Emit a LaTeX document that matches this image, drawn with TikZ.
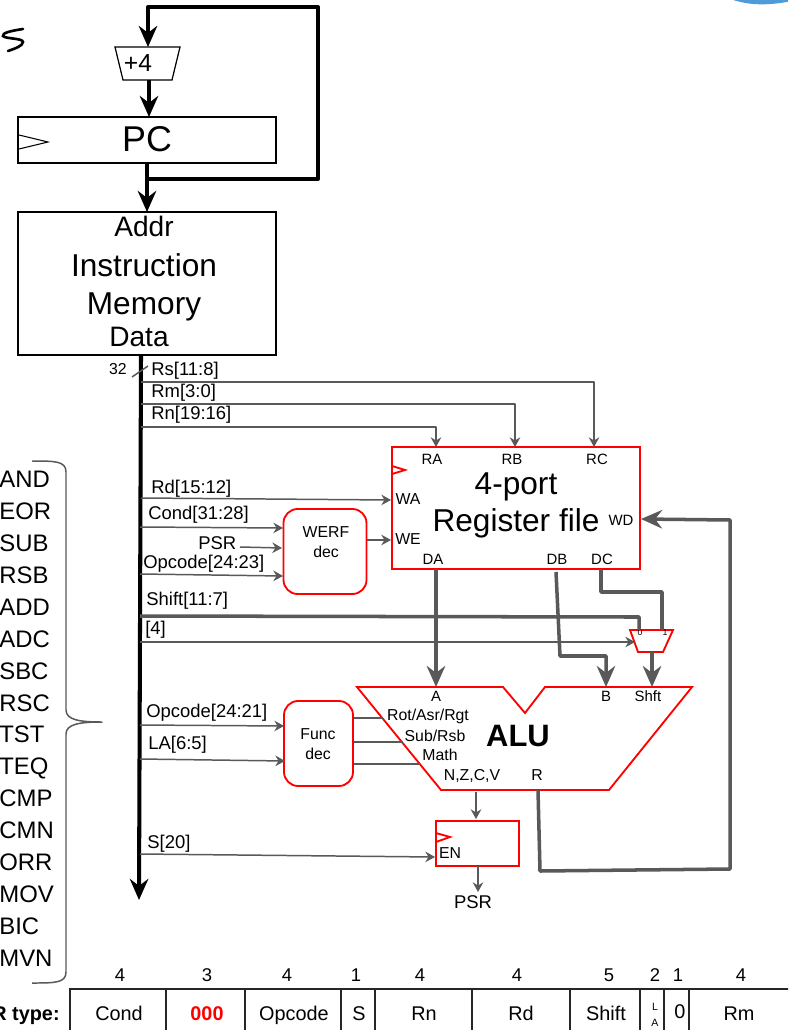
\documentclass[tikz,border=0pt]{standalone}
\usepackage{fontspec}
\setmainfont{Liberation Sans}
\usetikzlibrary{arrows.meta, positioning, calc}
\definecolor{cred}{HTML}{FF0000}
\definecolor{cgrey}{HTML}{595959}
\definecolor{cblue}{HTML}{4F9BD9}
\newcommand{\fsz}[1]{\fontsize{#1}{#1}\selectfont}
\tikzset{
  fs/.style={font=\fsz{#1}, text height=0.72*#1, text depth=0pt},
  fsb/.style={font=\fsz{#1}\bfseries, text height=0.72*#1, text depth=0pt},
  blackbox/.style={draw=black, line width=1.05pt, inner sep=0pt},
  redbox/.style={draw=cred, line width=1.05pt, inner sep=0pt},
  decbox/.style={redbox, rounded corners=8pt, minimum width=1.66cm, minimum height=1.70cm},
  blackwire/.style={draw=black, line width=2.3pt, line join=round},
  blackarrow/.style={blackwire, -{Stealth[length=12pt, width=10.5pt, inset=4pt]}},
  wire/.style={draw=cgrey, line width=0.85pt, line join=round},
  arrow/.style={wire, -{Stealth[length=5.5pt, width=6pt, inset=1.8pt]}},
  thickwire/.style={draw=cgrey, line width=2pt, line join=round},
  thickarrow/.style={thickwire, -{Stealth[length=12pt, width=10.5pt, inset=4pt]}},
  buslabel/.style={anchor=west, fs=10.5pt},
  port/.style={fs=8.5pt},
  alulabel/.style={fs=9pt},
  oplabel/.style={anchor=west, fs=13.6pt},
  bits/.style={fs=10.5pt},
  field/.style={fs=11.3pt},
  fieldline/.style={draw=black!85, line width=0.6pt},
  clocktip/.style={draw=cred, line width=1.05pt},
}
\begin{document}
\begin{tikzpicture}[x=0.02cm, y=-0.02cm, every node/.append style={inner sep=0pt}]
  \useasboundingbox (0,0) rectangle (788,1030);
  \clip (0,0) rectangle (788,1030);
  \fill[cblue] (712,-12) .. controls (735,8) and (770,7) .. (800,-1) -- (800,-12) -- cycle;
  \draw[line width=1.5pt, line cap=round] (23,29) .. controls (10,31) and (2,33) .. (3,36) .. controls (5,39) and (23,38) .. (23,42) .. controls (23,46) and (14,49) .. (8,51);

  % fetch path
  \node[blackbox, minimum width=5.16cm, minimum height=0.92cm] (pc) at (147,140) {};
  \node[fs=20.4pt] (pcname) at (147,139) {PC};
  \draw[line width=0.6pt] (19,135) -- (48,142) -- (19,149);
  \node[blackbox, minimum width=5.16cm, minimum height=2.86cm] (imem) at (147,283.5) {};
  \node[fs=16pt] (addr) at (144,226) {Addr};
  \node[fs=18pt] (instr) at (144,265) {Instruction};
  \node[fs=18pt] (mem) at (144,303) {Memory};
  \node[fs=16pt] (data) at (139,336) {Data};
  \draw[black, line width=0.7pt] (115,47) -- (180,47) -- (172,80) -- (123,80) -- cycle;
  \node[fs=14pt] (plus) at (138,63) {+4};
  \coordinate (plusin) at (148,47);
  \coordinate (plusout) at (149,80);
  \coordinate (pctop) at (149,117);
  \coordinate (pcbot) at (147,163);
  \coordinate (memtop) at (147,212);
  \coordinate (pcfork) at (148,179);
  \draw[blackarrow] (pcbot) -- (memtop);
  \draw[blackwire] (pcfork) -- (318,179) -- (318,7) -- (148,7) -- (148,20);
  \draw[blackarrow] (148,7) -- (plusin);
  \draw[blackarrow] (plusout) -- (pctop);

  % instruction bus
  \coordinate (bustop) at (141,355);
  \coordinate (busend) at (139,900);
  \draw[blackarrow] (bustop) -- (busend);
  \draw[wire] (132,377) -- (148,366);
  \node[fs=9pt] (width) at (118,369) {32};

  % register file
  \node[redbox, minimum width=4.96cm, minimum height=2.44cm] (rf) at (516,508) {};
  \draw[clocktip] (392,466) -- (405,470) -- (392,474);
  \node[fs=18pt] (rfa) at (516,483) {4-port};
  \node[fs=18pt] (rfb) at (516,520) {Register file};
  \node[port] (ra) at (432,459) {RA};
  \node[port] (rb) at (512,459) {RB};
  \node[port] (rc) at (597,459) {RC};
  \node[fs=9pt] (wa) at (408,499) {WA};
  \node[fs=9pt] (we) at (408,539) {WE};
  \node[port] (wd) at (621,520) {WD};
  \node[port] (da) at (433,559) {DA};
  \node[port] (db) at (557,559) {DB};
  \node[port] (dc) at (602,559) {DC};

  % register reads
  \node[buslabel] (rs) at (151,369) {Rs[11:8]};
  \node[buslabel] (rm) at (151,391) {Rm[3:0]};
  \node[buslabel] (rn) at (151,413) {Rn[19:16]};
  \coordinate (tapc) at (141,382);
  \coordinate (tapb) at (141,404);
  \coordinate (tapa) at (141,427);
  \coordinate (rcin) at (594,447);
  \coordinate (rbin) at (515,447);
  \coordinate (rain) at (436,447);
  \draw[arrow] (tapc) -| (rcin);
  \draw[arrow] (tapb) -| (rbin);
  \draw[arrow] (tapa) -| (rain);

  % write enable
  \node[decbox] (werf) at (325,551.5) {};
  \node[fs=9pt] (werfa) at (326,532) {WERF};
  \node[fs=9pt] (werfb) at (326,552) {dec};
  \node[buslabel] (rd) at (151,487) {Rd[15:12]};
  \node[buslabel] (cond) at (148,513) {Cond[31:28]};
  \node[buslabel] (psrin) at (198,543) {PSR};
  \node[buslabel] (opa) at (143,562) {Opcode[24:23]};
  \coordinate (taprd) at (141,498);
  \coordinate (rdin) at (391,500);
  \coordinate (tapcond) at (140,527);
  \coordinate (condin) at (283,528);
  \coordinate (psrout) at (240,547);
  \coordinate (psrend) at (282,548);
  \coordinate (tapop) at (140,574);
  \coordinate (opin) at (283,576);
  \coordinate (werfout) at (367,540);
  \coordinate (wein) at (391,540);
  \draw[arrow] (taprd) -- (rdin);
  \draw[arrow] (tapcond) -- (condin);
  \draw[arrow] (psrout) -- (psrend);
  \draw[arrow] (tapop) -- (opin);
  \draw[arrow] (werfout) -- (wein);

  % shifter mux
  \draw[redbox] (630,630) -- (673,630) -- (663,652) -- (638,652) -- cycle;
  \node[fs=5pt] (mux0) at (640,632) {0};
  \node[fs=5pt] (mux1) at (665,632) {1};
  \node[buslabel] (shift) at (146,599) {Shift[11:7]};
  \node[buslabel] (four) at (145,628) {[4]};
  \coordinate (tapshift) at (140,616);
  \coordinate (mux0in) at (639,630);
  \coordinate (tapfour) at (140,642);
  \coordinate (muxsel) at (635,642);
  \coordinate (dcout) at (601,569);
  \coordinate (mux1in) at (662,630);
  \coordinate (muxout) at (652,652);
  \draw[thickwire] (tapshift) -- (630,617) -- (639,617) -- (mux0in);
  \draw[arrow] (tapfour) -- (muxsel);
  \draw[thickwire] (dcout) -- (601,592) -- (662,592) -- (mux1in);

  % alu
  \draw[redbox] (357,687) -- (503,687) -- (525,713) -- (545,687) -- (692,687) -- (609,790) -- (441,790) -- cycle;
  \node[fsb=17.6pt] (alu) at (518,735) {ALU};
  \node[port] (aport) at (436,696) {A};
  \node[port] (bport) at (606,696) {B};
  \node[port] (sport) at (648,696) {Shft};
  \node[alulabel] (rot) at (428,715) {Rot/Asr/Rgt};
  \node[alulabel] (sub) at (435,736) {Sub/Rsb};
  \node[alulabel] (math) at (440,755) {Math};
  \node[alulabel] (flags) at (472,775) {N,Z,C,V};
  \node[alulabel] (rout) at (537,775) {R};
  \coordinate (daout) at (436,569);
  \coordinate (ain) at (436,687);
  \coordinate (dbout) at (556,572);
  \coordinate (bin) at (606,687);
  \coordinate (shin) at (652,687);
  \draw[thickarrow] (daout) -- (ain);
  \draw[thickarrow] (dbout) -- (560,656) -- (606,656) -- (bin);
  \draw[thickarrow] (muxout) -- (shin);

  % function decode
  \node[decbox, minimum width=1.38cm] (func) at (318.5,743.5) {};
  \node[fs=9pt] (funca) at (318,734) {Func};
  \node[fs=9pt] (funcb) at (318,754) {dec};
  \node[buslabel] (opb) at (146,711) {Opcode[24:21]};
  \node[buslabel] (la) at (148,743) {LA[6:5]};
  \coordinate (tapopb) at (140,725);
  \coordinate (opbin) at (284,726);
  \coordinate (tapla) at (140,759);
  \coordinate (lain) at (285,761);
  \coordinate (rotend) at (383,718);
  \coordinate (subend) at (403,742);
  \coordinate (mathend) at (420,764);
  \draw[arrow] (tapopb) -- (opbin);
  \draw[arrow] (tapla) -- (lain);
  \draw[wire, line width=1.1pt] (func.east |- rotend) -- (rotend);
  \draw[wire, line width=1.1pt] (func.east |- subend) -- (subend);
  \draw[wire, line width=1.1pt] (func.east |- mathend) -- (mathend);

  % status register
  \node[redbox, minimum width=1.66cm, minimum height=0.90cm] (psr) at (477.5,843.5) {};
  \draw[clocktip] (436,833) -- (450,837) -- (436,842);
  \node[fs=9pt] (en) at (450,853) {EN};
  \node[buslabel] (sbit) at (147,842) {S[20]};
  \node[fs=10.5pt] (psrname) at (473,902) {PSR};
  \coordinate (tapsbit) at (140,854);
  \coordinate (enin) at (435,857);
  \coordinate (flagout) at (476,792);
  \coordinate (flagin) at (476,819);
  \coordinate (psrbot) at (478,866);
  \coordinate (psrdown) at (478,892);
  \draw[arrow] (tapsbit) -- (enin);
  \draw[arrow] (flagout) -- (flagin);
  \draw[arrow] (psrbot) -- (psrdown);

  % result back to WD
  \coordinate (aluout) at (538,790);
  \coordinate (wdin) at (641,519);
  \draw[thickarrow] (aluout) -- (540,871) -- (730,869) -- (730,520) -- (wdin);

  % opcode list
  \node[oplabel] (op1) at (-1,479) {AND};
  \node[oplabel] (op2) at (-1,511) {EOR};
  \node[oplabel] (op3) at (-1,543) {SUB};
  \node[oplabel] (op4) at (-1,575) {RSB};
  \node[oplabel] (op5) at (-1,607) {ADD};
  \node[oplabel] (op6) at (-1,639) {ADC};
  \node[oplabel] (op7) at (-1,671) {SBC};
  \node[oplabel] (op8) at (-1,703) {RSC};
  \node[oplabel] (op9) at (-1,734) {TST};
  \node[oplabel] (op10) at (-1,766) {TEQ};
  \node[oplabel] (op11) at (-1,798) {CMP};
  \node[oplabel] (op12) at (-1,830) {CMN};
  \node[oplabel] (op13) at (-1,862) {ORR};
  \node[oplabel] (op14) at (-1,894) {MOV};
  \node[oplabel] (op15) at (-1,926) {BIC};
  \node[oplabel] (op16) at (-1,958) {MVN};
  \draw[wire] (32,461) .. controls (55,461) and (66,461) .. (66,472) -- (66,710) .. controls (66,720) and (80,722) .. (102,722) .. controls (80,722) and (66,724) .. (66,734) -- (66,972) .. controls (66,983) and (55,983) .. (32,983);

  % r type fields
  \node[bits] (n1) at (120,975) {4};
  \node[bits] (n2) at (207,975) {3};
  \node[bits] (n3) at (287,975) {4};
  \node[bits] (n4) at (356,975) {1};
  \node[bits] (n5) at (420,975) {4};
  \node[bits] (n6) at (517,975) {4};
  \node[bits] (n7) at (609,975) {5};
  \node[bits] (n8) at (655,975) {2};
  \node[bits] (n9) at (678,975) {1};
  \node[bits] (n10) at (741,975) {4};
  \draw[fieldline] (70,1032) -- (70,989) -- (790,989);
  \draw[fieldline] (166,989) -- (166,1032);
  \draw[fieldline] (245,989) -- (245,1032);
  \draw[fieldline] (341,989) -- (341,1032);
  \draw[fieldline] (375,989) -- (375,1032);
  \draw[fieldline] (472,989) -- (472,1032);
  \draw[fieldline] (570,989) -- (570,1032);
  \draw[fieldline] (640,989) -- (640,1032);
  \draw[fieldline] (664,989) -- (664,1032);
  \draw[fieldline] (689,989) -- (689,1032);
  \node[anchor=east, fsb=11.3pt] (rtype) at (60,1013) {R type:};
  \node[field] (f1) at (119,1013) {Cond};
  \node[text=cred, fsb=11.3pt] (f2) at (207,1013) {000};
  \node[field] (f3) at (294,1013) {Opcode};
  \node[field] (f4) at (359,1013) {S};
  \node[field] (f5) at (424,1013) {Rn};
  \node[field] (f6) at (521,1013) {Rd};
  \node[field] (f7) at (606,1013) {Shift};
  \node[fs=6pt] (f8a) at (655,1007) {L};
  \node[fs=6pt] (f8b) at (655,1023) {A};
  \node[field] (f9) at (680,1011) {0};
  \node[field] (f10) at (739,1013) {Rm};
\end{tikzpicture}
\end{document}
